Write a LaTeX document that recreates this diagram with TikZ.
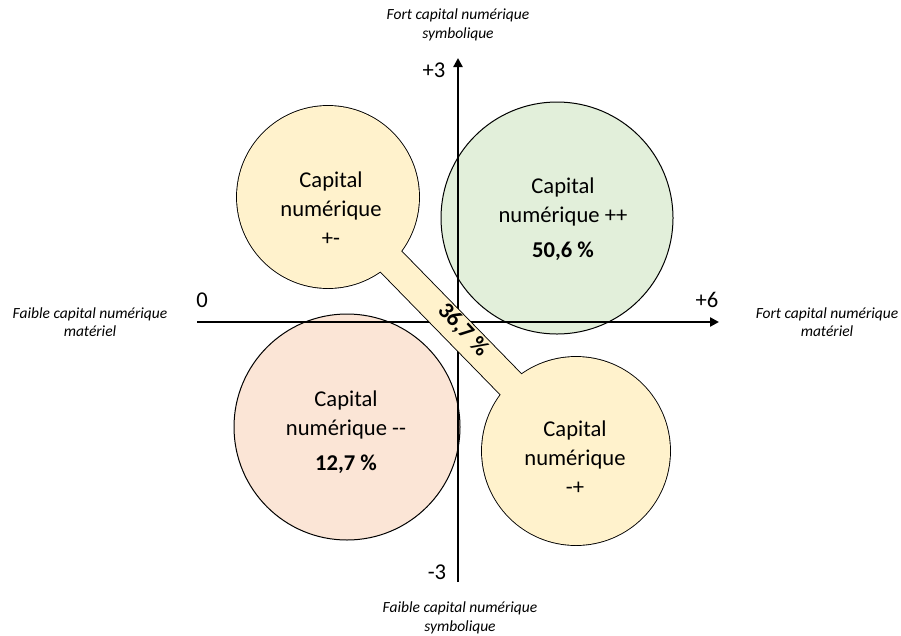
\documentclass[tikz,border=0pt]{standalone}
\usepackage{fontspec}
\setmainfont{Carlito}
\usetikzlibrary{arrows.meta}
\definecolor{ylw}{HTML}{FFF2CC}
\definecolor{grn}{HTML}{E2EFDA}
\definecolor{pnk}{HTML}{FBE5D6}
\begin{document}
\begin{tikzpicture}[x=1pt,y=-1pt,
  circtxt/.style={font=\fontsize{22.6}{29}\selectfont, align=center, inner sep=0},
  pcttxt/.style={font=\fontsize{23}{27}\selectfont\bfseries, inner sep=0},
  axlbl/.style={font=\fontsize{15.5}{18.5}\selectfont\itshape, align=center, inner sep=0},
  ticklbl/.style={font=\fontsize{22.6}{27}\selectfont, inner sep=0},
  axisline/.style={line width=2.4pt, -{Triangle[length=9pt,width=9pt]}},
  bubble/.style={circle, draw=black, line width=1pt, inner sep=0, outer sep=0},
  ybubble/.style={circle, draw=black, line width=1.8pt, fill=ylw, inner sep=0, outer sep=0}]
\useasboundingbox (0,0) rectangle (901,635);
\fill[white] (0,0) rectangle (901,635);
% green and pink circles
\node[bubble, fill=grn, minimum size=232] (g) at (557,218) {};
\node[bubble, fill=pnk, minimum size=226] (p) at (347,427) {};
% axes
\coordinate (xL) at (197,322);
\coordinate (xR) at (719,322);
\coordinate (yB) at (458,582);
\coordinate (yT) at (458,58);
\draw[axisline] (xL) -- (xR);
\draw[axisline] (yB) -- (yT);
% yellow shape: two circles joined by a band
\node[ybubble, minimum size=182] (tl) at (328,197) {};
\node[ybubble, minimum size=188] (br) at (576,451) {};
\draw[line width=30.8pt, black] (tl.center) -- (br.center);
\fill[ylw] (tl.center) circle (91);
\fill[ylw] (br.center) circle (94);
\draw[line width=29pt, ylw] (tl.center) -- (br.center);
\node[pcttxt, rotate=-46.8] (band) at (463,330) {36,7 \%};
% circle texts
\node[circtxt] (tltxt) at (331,209) {Capital\\numérique\\+-};
\node[circtxt] (gtxt) at (563,219) {Capital\\numérique ++\\[6pt]\textbf{50,6 \%}};
\node[circtxt] (ptxt) at (346,432) {Capital\\numérique -{}-\\[6pt]\textbf{12,7 \%}};
\node[circtxt] (brtxt) at (575,458) {Capital\\numérique\\-+};
% tick labels
\node[ticklbl] (t0) at (202,300) {0};
\node[ticklbl] (t6) at (707,300) {+6};
\node[ticklbl] (t3) at (434,70) {+3};
\node[ticklbl] (tm3) at (437,572) {-3};
% axis titles
\node[axlbl] (top) at (458,25) {Fort capital numérique\\symbolique};
\node[axlbl] (bot) at (460,618) {Faible capital numérique\\symbolique};
\node[axlbl] (lft) at (90,322) {Faible capital numérique\\matériel};
\node[axlbl] (rgt) at (827,322) {Fort capital numérique\\matériel};
\end{tikzpicture}
\end{document}
